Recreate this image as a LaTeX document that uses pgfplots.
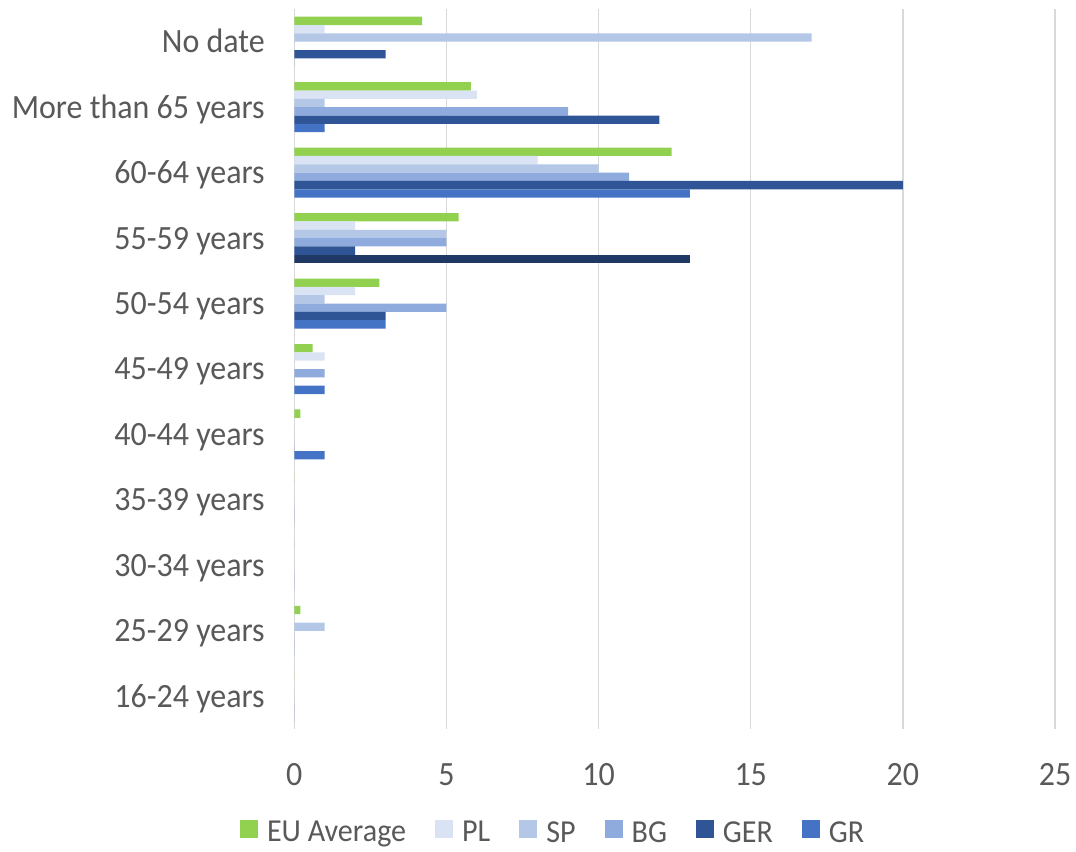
\documentclass[border=0pt]{standalone}
\usepackage{fontspec}
\setmainfont{Carlito}[FakeStretch=0.94]
\usepackage{pgfplots}
\pgfplotsset{compat=1.18}
\definecolor{eu}{HTML}{92D050}
\definecolor{pl}{HTML}{DAE3F3}
\definecolor{sp}{HTML}{B4C7E7}
\definecolor{bg}{HTML}{8FAADC}
\definecolor{ger}{HTML}{2F5597}
\definecolor{gr}{HTML}{4472C4}
\definecolor{navy}{HTML}{203864}
\definecolor{gridc}{HTML}{D9D9D9}
\definecolor{tc}{HTML}{595959}
\begin{document}
\begin{tikzpicture}
\begin{axis}[
  name=ax,
  scale only axis,
  width=570.5pt, height=540pt,
  xmin=0, xmax=25, ymin=-0.5, ymax=10.5,
  xtick={0,5,10,15,20,25},
  ytick={0,1,2,3,4,5,6,7,8,9,10},
  yticklabels={16-24 years,25-29 years,30-34 years,35-39 years,40-44 years,45-49 years,50-54 years,55-59 years,60-64 years,More than 65 years,No date},
  xmajorgrids,
  grid style={draw=gridc, line width=1pt},
  axis line style={draw=none},
  major tick length=0pt,
  /pgf/number format/assume math mode=true,
  ticklabel style={font=\fontsize{25.5}{30}\selectfont, text=tc},
  yticklabel style={anchor=east, inner sep=0pt, xshift=-22pt, text height=16.4pt, text depth=0pt},
  xticklabel style={anchor=north, inner sep=0pt, yshift=-25.5pt},
  xbar,
  bar width=6.25pt,
  legend columns=-1,
  legend style={draw=none, fill=none, at={(0.339,-0.143)}, anchor=center,
    font=\fontsize{24}{28}\selectfont, text=tc,
    nodes={inner sep=0pt},
    /tikz/every even column/.append style={column sep=21.75pt}},
  legend image code/.code={\fill[#1] (0pt,-4pt) rectangle (13.5pt,9.5pt); \path (20.25pt,0pt);},
]
\addplot[fill=eu, draw=none, bar shift=15.625pt] coordinates {(4.2,10) (5.8,9) (12.4,8) (5.4,7) (2.8,6) (0.6,5) (0.2,4) (0,3) (0,2) (0.2,1) (0,0)};
\addplot[fill=pl, draw=none, bar shift=9.375pt] coordinates {(1,10) (6,9) (8,8) (2,7) (2,6) (1,5) (0,4) (0,3) (0,2) (0,1) (0,0)};
\addplot[fill=sp, draw=none, bar shift=3.125pt] coordinates {(17,10) (1,9) (10,8) (5,7) (1,6) (0,5) (0,4) (0,3) (0,2) (1,1) (0,0)};
\addplot[fill=bg, draw=none, bar shift=-3.125pt] coordinates {(0,10) (9,9) (11,8) (5,7) (5,6) (1,5) (0,4) (0,3) (0,2) (0,1) (0,0)};
\addplot[fill=ger, draw=none, bar shift=-9.375pt] coordinates {(3,10) (12,9) (20,8) (2,7) (3,6) (0,5) (0,4) (0,3) (0,2) (0,1) (0,0)};
\addplot[fill=gr, draw=none, bar shift=-15.625pt] coordinates {(0,10) (1,9) (13,8) (0,7) (3,6) (1,5) (1,4) (0,3) (0,2) (0,1) (0,0)};
\addplot[fill=navy, draw=none, bar shift=-15.625pt, forget plot] coordinates {(13,7)};
\legend{EU Average, PL, SP, BG, GER, GR}
\end{axis}
\pgfresetboundingbox
\path ([xshift=-220.7pt, yshift=-91.5pt]ax.south west) rectangle ([xshift=15.75pt, yshift=6.75pt]ax.north east);
\end{tikzpicture}
\end{document}
